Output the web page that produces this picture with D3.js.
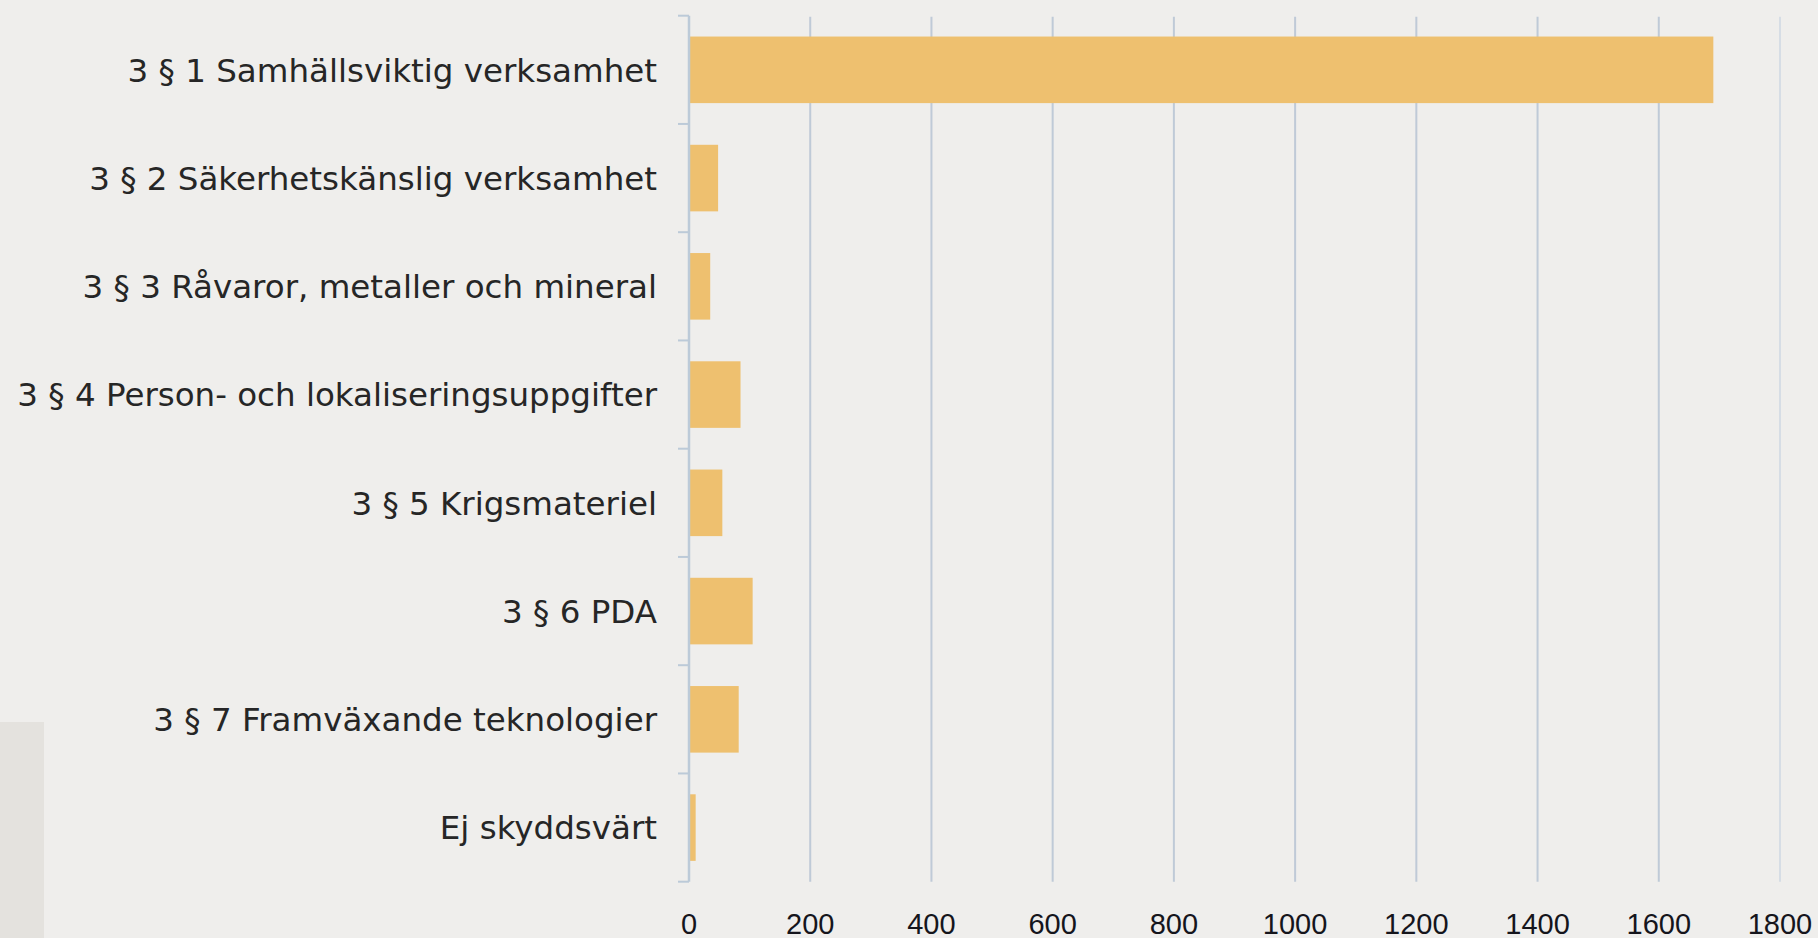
<!DOCTYPE html>
<html>
<head>
<meta charset="utf-8">
<script src="https://cdn.jsdelivr.net/npm/d3@7"></script>
<style>
  html, body { margin: 0; padding: 0; background: #efeeec; }
  svg { display: block; }
</style>
</head>
<body>
<svg id="chart"></svg>
<script>
// chart data
const categories = [
  "3 § 1 Samhällsviktig verksamhet",
  "3 § 2 Säkerhetskänslig verksamhet",
  "3 § 3 Råvaror, metaller och mineral",
  "3 § 4 Person- och lokaliseringsuppgifter",
  "3 § 5 Krigsmateriel",
  "3 § 6 PDA",
  "3 § 7 Framväxande teknologier",
  "Ej skyddsvärt"
];
const values = [1690, 48, 35, 85, 55, 105, 82, 11];
const tickValues = [0, 200, 400, 600, 800, 1000, 1200, 1400, 1600, 1800];

const width = 1818;
const height = 938;
const margin = { top: 15.7, right: 38, bottom: 56.3, left: 689 };

const svg = d3.select("#chart")
  .attr("width", width)
  .attr("height", height);

// grey block bottom left
svg.append("rect")
  .attr("x", 0)
  .attr("y", 722)
  .attr("width", 44)
  .attr("height", height - 722)
  .attr("fill", "#e4e2de");

const x = d3.scaleLinear()
  .domain([0, 1800])
  .range([margin.left, width - margin.right]);

const y = d3.scaleBand()
  .domain(categories)
  .range([margin.top, height - margin.bottom])
  .paddingInner(0.385)
  .paddingOuter(0.1925);

// vertical gridlines
svg.append("g")
  .selectAll("line")
  .data(tickValues.slice(1))
  .enter()
  .append("line")
  .attr("x1", d => x(d))
  .attr("x2", d => x(d))
  .attr("y1", margin.top + 1)
  .attr("y2", height - margin.bottom)
  .attr("stroke", d => d === 1800 ? "#d6dde5" : "#bfcad7")
  .attr("stroke-width", 2);

// bars
svg.append("g")
  .selectAll("rect")
  .data(values)
  .enter()
  .append("rect")
  .attr("x", x(0))
  .attr("y", (d, i) => y(categories[i]))
  .attr("width", d => x(d) - x(0))
  .attr("height", y.bandwidth())
  .attr("fill", "#eec06f");

// y axis line and tick marks on band boundaries
const boundaries = categories.map(c => y(c) - y.step() * y.paddingInner() / 2);
boundaries.push(height - margin.bottom);

svg.append("line")
  .attr("x1", x(0))
  .attr("x2", x(0))
  .attr("y1", margin.top)
  .attr("y2", height - margin.bottom)
  .attr("stroke", "#bccad8")
  .attr("stroke-width", 2.5);

svg.append("g")
  .selectAll("line")
  .data(boundaries)
  .enter()
  .append("line")
  .attr("x1", x(0) - 11)
  .attr("x2", x(0))
  .attr("y1", d => d)
  .attr("y2", d => d)
  .attr("stroke", "#bccad8")
  .attr("stroke-width", 2);

// category labels
const labels = svg.append("g")
  .selectAll("text")
  .data(categories)
  .enter()
  .append("text")
  .attr("x", x(0) - 32)
  .attr("y", d => y(d) + y.bandwidth() / 2)
  .attr("dy", "0.36em")
  .attr("text-anchor", "end")
  .attr("font-family", "'DejaVu Sans', sans-serif")
  .attr("font-size", 30)
  .attr("fill", "#262626")
  .text(d => d);

// fit the longest label to the width it takes in the original (~640px)
const longest = d3.max(labels.nodes(), n => n.getComputedTextLength());
labels.attr("font-size", 30 * 640 / longest);

// x tick labels
svg.append("g")
  .selectAll("text")
  .data(tickValues)
  .enter()
  .append("text")
  .attr("x", d => x(d))
  .attr("y", 934)
  .attr("text-anchor", "middle")
  .attr("font-family", "'Liberation Sans', Arial, sans-serif")
  .attr("font-size", 29)
  .attr("fill", "#15151c")
  .text(d => d);
</script>
</body>
</html>
